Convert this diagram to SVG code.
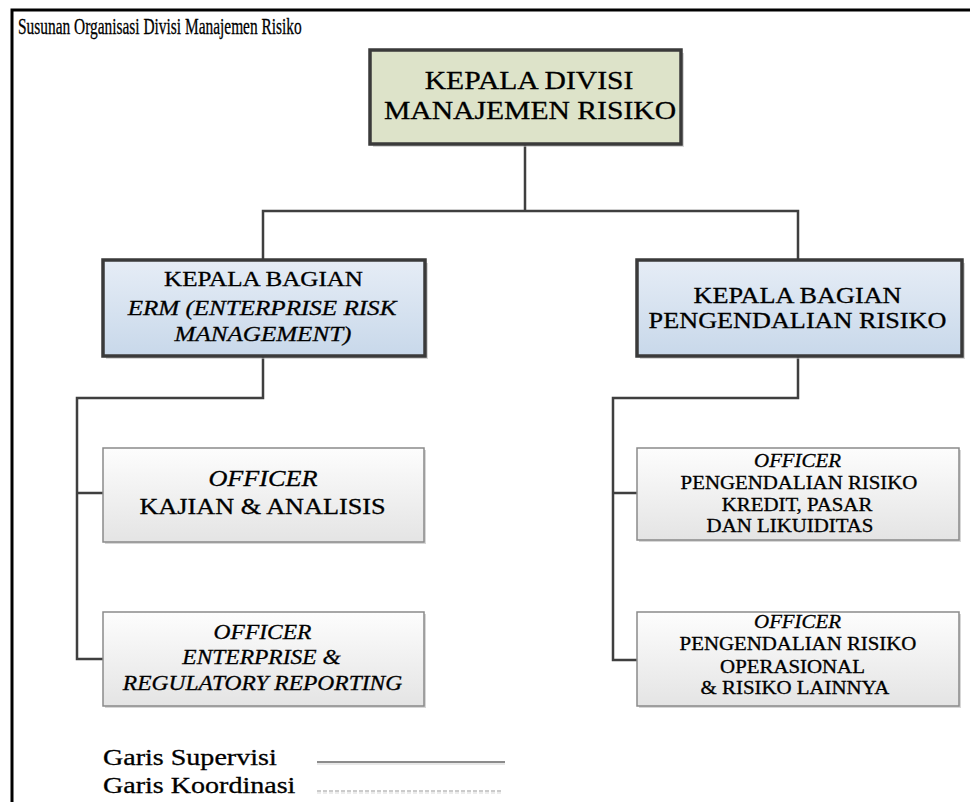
<svg xmlns="http://www.w3.org/2000/svg" width="970" height="802" viewBox="0 0 970 802">
<style>
text{font-family:"Liberation Serif","Times New Roman",serif;fill:#000;stroke:#000;stroke-width:0.3;text-anchor:middle}
.i{font-style:italic}
.con{fill:none;stroke:#3f3f3f;stroke-width:2.5}
.thick{stroke:#3a3a3a;stroke-width:3.5}
.thin{stroke:#8a8a8a;stroke-width:1.5}
.sh{fill:#bdbdbd;opacity:0.6}
.f26{font-size:26px}.f22{font-size:22px}.f23{font-size:23px}.f20{font-size:20.6px}.f18{font-size:18.3px}
</style>
<defs>
<linearGradient id="gBlue" x1="0" y1="0" x2="0" y2="1">
<stop offset="0" stop-color="#e6edf6"/><stop offset="1" stop-color="#c8d8ea"/>
</linearGradient>
<linearGradient id="gGray" x1="0" y1="0" x2="0" y2="1">
<stop offset="0" stop-color="#fdfdfd"/><stop offset="1" stop-color="#e4e4e4"/>
</linearGradient>
</defs>
<rect width="970" height="802" fill="#fff"/>
<path d="M12 802 V10 H970" fill="none" stroke="#000" stroke-width="3"/>
<text transform="translate(18,34) scale(0.67,1)" style="text-anchor:start;font-size:23px">Susunan Organisasi Divisi Manajemen Risiko</text>

<g id="connectors">
<path class="con" d="M525 144 V211 M263 260 V211 H798 V260"/>
<path class="con" d="M263 356 V398 H77 V659 H103 M77 493 H103"/>
<path class="con" d="M798 356 V398 H613 V660 H637 M613 493 H637"/>
</g>

<g id="kepala-divisi">
<rect class="sh" x="373" y="53" width="311" height="94"/>
<rect x="370" y="50" width="311" height="94" fill="#dde3c9" class="thick"/>
<text class="f26" transform="translate(529,89) scale(1.14,1)">KEPALA DIVISI</text>
<text class="f26" transform="translate(530,119) scale(1.14,1)">MANAJEMEN RISIKO</text>
</g>

<g id="kb-erm">
<rect class="sh" x="106" y="263" width="322" height="96"/>
<rect x="103" y="260" width="322" height="96" fill="url(#gBlue)" class="thick"/>
<text class="f22" transform="translate(263.5,286) scale(1.14,1)">KEPALA BAGIAN</text>
<text class="f22 i" transform="translate(262,315) scale(1.14,1)">ERM (ENTERPRISE RISK</text>
<text class="f22 i" transform="translate(263,341) scale(1.14,1)">MANAGEMENT)</text>
</g>

<g id="kb-pengendalian">
<rect class="sh" x="640" y="263" width="325" height="96"/>
<rect x="637" y="260" width="325" height="96" fill="url(#gBlue)" class="thick"/>
<text class="f23" transform="translate(797.5,303) scale(1.14,1)">KEPALA BAGIAN</text>
<text class="f23" transform="translate(797.5,328) scale(1.14,1)">PENGENDALIAN RISIKO</text>
</g>

<g id="officer-kajian">
<rect class="sh" x="105" y="450" width="321" height="94"/>
<rect x="103" y="448" width="321" height="94" fill="url(#gGray)" class="thin"/>
<text class="f23 i" transform="translate(263,486) scale(1.14,1)">OFFICER</text>
<text class="f23" transform="translate(262.5,514) scale(1.14,1)">KAJIAN &amp; ANALISIS</text>
</g>

<g id="officer-enterprise">
<rect class="sh" x="105" y="614" width="321" height="94"/>
<rect x="103" y="612" width="321" height="94" fill="url(#gGray)" class="thin"/>
<text class="f20 i" transform="translate(262.5,639) scale(1.14,1)">OFFICER</text>
<text class="f20 i" transform="translate(261.5,664) scale(1.14,1)">ENTERPRISE &amp;</text>
<text class="f20 i" transform="translate(262.5,690) scale(1.14,1)">REGULATORY REPORTING</text>
</g>

<g id="officer-kredit">
<rect class="sh" x="639" y="450" width="322" height="92"/>
<rect x="637" y="448" width="322" height="92" fill="url(#gGray)" class="thin"/>
<text class="f18 i" transform="translate(797.5,467) scale(1.14,1)">OFFICER</text>
<text class="f18" transform="translate(799,489) scale(1.14,1)">PENGENDALIAN RISIKO</text>
<text class="f18" transform="translate(797,511) scale(1.14,1)">KREDIT, PASAR</text>
<text class="f18" transform="translate(790,532) scale(1.14,1)">DAN LIKUIDITAS</text>
</g>

<g id="officer-operasional">
<rect class="sh" x="639" y="614" width="322" height="94"/>
<rect x="637" y="612" width="322" height="94" fill="url(#gGray)" class="thin"/>
<text class="f18 i" transform="translate(797.5,628) scale(1.14,1)">OFFICER</text>
<text class="f18" transform="translate(798,650) scale(1.14,1)">PENGENDALIAN RISIKO</text>
<text class="f18" transform="translate(792.5,673) scale(1.14,1)">OPERASIONAL</text>
<text class="f18" transform="translate(795,694) scale(1.14,1)">&amp; RISIKO LAINNYA</text>
</g>

<g id="legend">
<text transform="translate(103,765) scale(1.22,1)" style="text-anchor:start;font-size:23px">Garis Supervisi</text>
<text transform="translate(103,793) scale(1.22,1)" style="text-anchor:start;font-size:23px">Garis Koordinasi</text>
<line x1="317" y1="764" x2="505" y2="764" stroke="#e0e0e0" stroke-width="1.5"/>
<line x1="317" y1="762" x2="505" y2="762" stroke="#666" stroke-width="1.5"/>
<line x1="317" y1="793" x2="502" y2="793" stroke="#e6e6e6" stroke-width="1.5" stroke-dasharray="4 2"/>
<line x1="317" y1="791" x2="502" y2="791" stroke="#999" stroke-width="1.2" stroke-dasharray="4 2"/>
</g>
</svg>
